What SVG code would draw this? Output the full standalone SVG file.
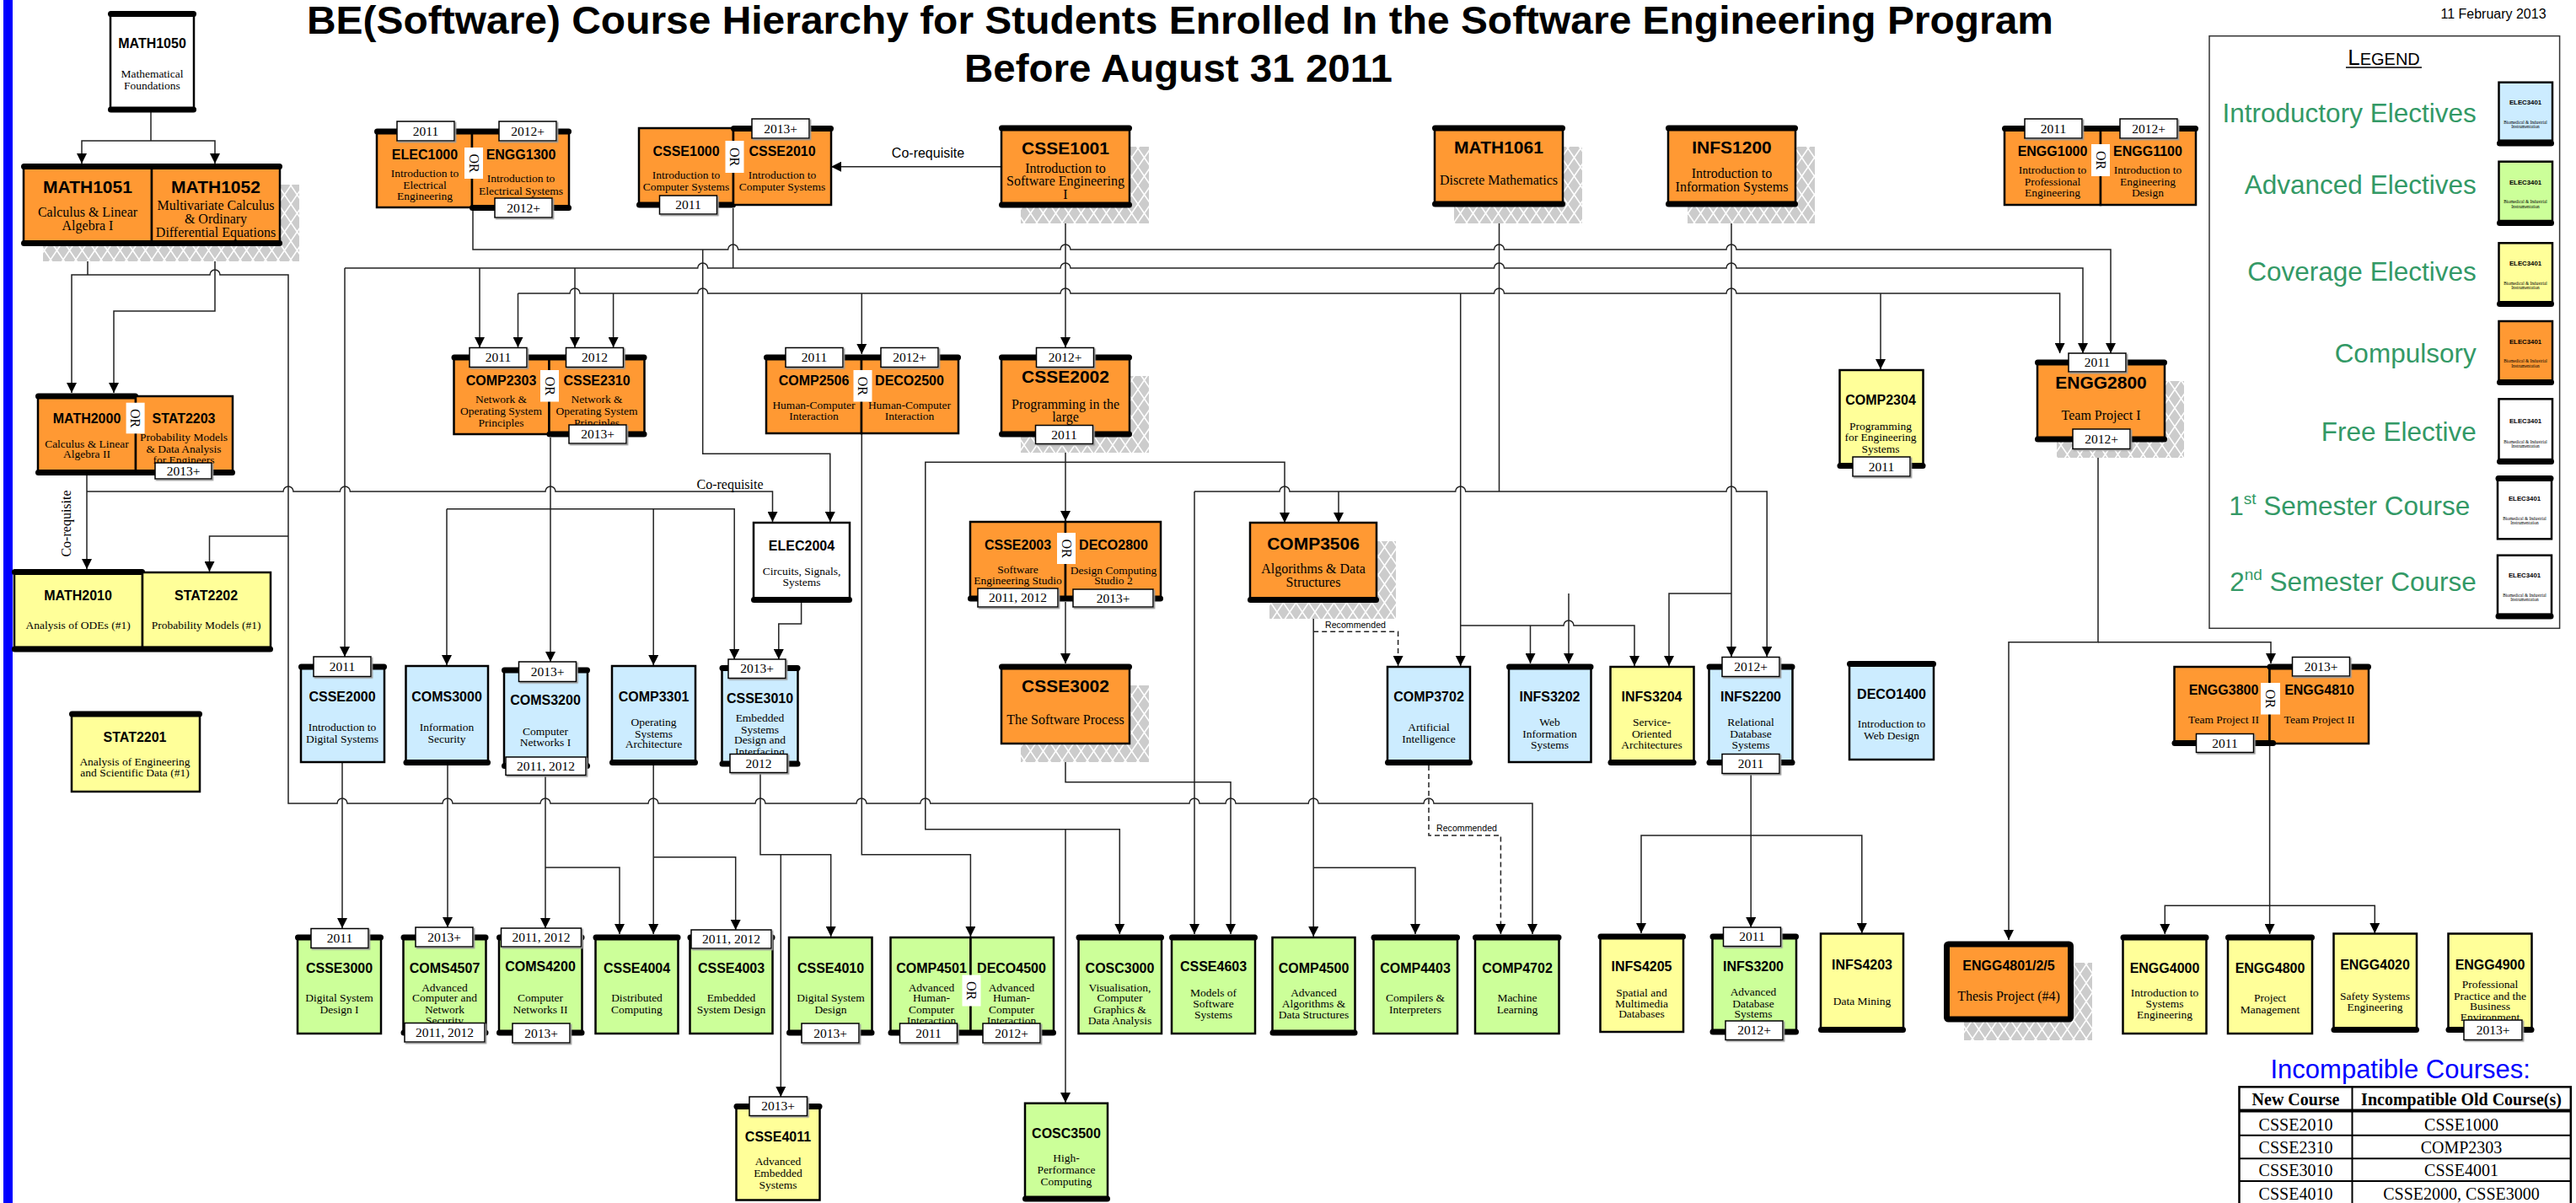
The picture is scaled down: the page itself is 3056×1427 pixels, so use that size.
<svg xmlns="http://www.w3.org/2000/svg" width="3056" height="1427" viewBox="0 0 3056 1427">
<defs>
<pattern id="hatch" width="15" height="22" patternUnits="userSpaceOnUse"><rect width="15" height="22" fill="#cccccc"/><path d="M0,0 L15,22 M15,0 L0,22" stroke="#ffffff" stroke-width="1.6"/></pattern>
<marker id="ar" viewBox="0 0 12 12" refX="12" refY="6" markerWidth="12" markerHeight="12" markerUnits="userSpaceOnUse" orient="auto"><path d="M0,0 L12,6 L0,12 z" fill="#000"/></marker>
<filter id="ds" x="-10%" y="-20%" width="130%" height="150%"><feDropShadow dx="1.5" dy="1.5" stdDeviation="0" flood-color="#999999"/></filter>
<style>
.b{stroke:#000;stroke-width:2.5}
.o{fill:#FF9933}.bl{fill:#CCECFF}.g{fill:#CCFF99}.y{fill:#FFFF99}.w{fill:#fff}
.bar{fill:#000}
.tag{fill:#fff;stroke:#000;stroke-width:1.5;filter:url(#ds)}
.orb{fill:#fff}
.sh{fill:url(#hatch)}
.c{fill:none;stroke:#222;stroke-width:1.5}
.a{marker-end:url(#ar)}
.dash{stroke-dasharray:6 4}
text{fill:#000;text-anchor:middle}
.t1{font:bold 21px 'Liberation Sans',Arial,sans-serif}
.t2{font:bold 16px 'Liberation Sans',Arial,sans-serif}
.d1{font:16px 'Liberation Serif','Times New Roman',serif}
.d2{font:13.5px 'Liberation Serif','Times New Roman',serif}
.yr{font:15.5px 'Liberation Serif','Times New Roman',serif}
.orl{font:16px 'Liberation Serif','Times New Roman',serif}
.rec{font:10.6px 'Liberation Sans',Arial,sans-serif}
.lg{font:31.5px 'Liberation Sans',Arial,sans-serif;fill:#339966;text-anchor:end}
.ic{font:bold 7.8px 'Liberation Sans',Arial,sans-serif}
.ict{font:5.3px 'Liberation Serif','Times New Roman',serif}
.tb{font:20px 'Liberation Serif','Times New Roman',serif}
.tbh{font:bold 20px 'Liberation Serif','Times New Roman',serif}
</style>
</defs>
<rect width="3056" height="1427" fill="#fff"/>
<rect x="4" y="0" width="11" height="1427" fill="#0000FF"/>
<text x="1400" y="40" textLength="2072" lengthAdjust="spacingAndGlyphs" style="font:bold 47px 'Liberation Sans',Arial,sans-serif">BE(Software) Course Hierarchy for Students Enrolled In the Software Engineering Program</text>
<text x="1398" y="97" textLength="508" lengthAdjust="spacingAndGlyphs" style="font:bold 47px 'Liberation Sans',Arial,sans-serif">Before August 31 2011</text>
<text x="2958" y="22" style="font:16px 'Liberation Sans',Arial,sans-serif">11 February 2013</text>

<g id="connectors">
<path class="c" d="M179,133 V167"/>
<path class="c a" d="M179,167 H97 V194"/>
<path class="c a" d="M179,167 H255 V194"/>
<path class="c" d="M104,292 V326"/>
<path class="c a" d="M104,326 H85 V466"/>
<path class="c a" d="M104,326 H249 a6,6 0 0 1 12,0 H342 V953 H400 a6,6 0 0 1 12,0 H525 a6,6 0 0 1 12,0 H641 a6,6 0 0 1 12,0 H769 a6,6 0 0 1 12,0 H896 a6,6 0 0 1 12,0 H1016 a6,6 0 0 1 12,0 H1091.8 a6,6 0 0 1 12,0 H1411 a6,6 0 0 1 12,0 H1454 a6,6 0 0 1 12,0 H1552.2 a6,6 0 0 1 12,0 H1689 a6,6 0 0 1 12,0 H1818 V1108"/>
<path class="c a" d="M342,636 H248.5 V678"/>
<path class="c a" d="M255,292 V369 H135 V466"/>
<path class="c a" d="M103,564 V675"/>
<path class="c a" d="M103,583 H336 a6,6 0 0 1 12,0 H403.4 a6,6 0 0 1 12,0 H647 a6,6 0 0 1 12,0 H916.5 V619"/>
<path class="c a" d="M561,250 V296 H863.7 a6,6 0 0 1 12,0 H1258 a6,6 0 0 1 12,0 H1772.5 a6,6 0 0 1 12,0 H2048 a6,6 0 0 1 12,0 H2504 V419"/>
<path class="c a" d="M833.7,296 V538.3 H984.8 V619"/>
<path class="c a" d="M409,318 H827.7 a6,6 0 0 1 12,0 H1258 a6,6 0 0 1 12,0 H1772.5 a6,6 0 0 1 12,0 H2048 a6,6 0 0 1 12,0 H2471 V419"/>
<path class="c a" d="M409,318 V779"/>
<path class="c" d="M869.7,247 V318"/>
<path class="c a" d="M569,318 V412"/>
<path class="c a" d="M682,318 V412"/>
<path class="c a" d="M614.5,348 H676 a6,6 0 0 1 12,0 H827.7 a6,6 0 0 1 12,0 H1258 a6,6 0 0 1 12,0 H1772.5 a6,6 0 0 1 12,0 H2048 a6,6 0 0 1 12,0 H2443.6 V419"/>
<path class="c a" d="M614.5,348 V412"/>
<path class="c a" d="M727.6,348 V412"/>
<path class="c a" d="M1022.3,348 V420"/>
<path class="c a" d="M1732.7,348 V790"/>
<path class="c a" d="M2231,348 V438"/>
<path class="c a" d="M1264,246 V412"/>
<path class="c" d="M1778.5,246 V583"/>
<path class="c a" d="M1417,583 H1518 a6,6 0 0 1 12,0 H1726.7 a6,6 0 0 1 12,0 H2048 a6,6 0 0 1 12,0 H2096.2 V779"/>
<path class="c a" d="M1417,583 V1108"/>
<path class="c a" d="M1588,583 V620"/>
<path class="c a" d="M2054,246 V779"/>
<path class="c a" d="M2054,704 H1980 V790"/>
<path class="c a" d="M1861,704 V787"/>
<path class="c a" d="M1732.7,742 H1855 a6,6 0 0 1 12,0 H1939 V790"/>
<path class="c a" d="M1815.5,742 V787"/>
<path class="c a" d="M1264,527 V618"/>
<path class="c a" d="M1264,548.3 H1524 V620"/>
<path class="c a" d="M1264,548.3 H1097.8 V983.7 H1328.3 V1108"/>
<path class="c a" d="M1264,983.7 V1308"/>
<path class="c a" d="M1264,714 V787"/>
<path class="c a" d="M1264,882 V927.7 H1460 V1108"/>
<path class="c a" d="M1022.3,514 V1013.7 H1151.4 V1111"/>
<path class="c a" d="M950.6,715 V740 H923.8 V782"/>
<path class="c a" d="M530,603.7 H871.2 V782"/>
<path class="c a" d="M530,603.7 V789"/>
<path class="c a" d="M775.2,603.7 V789"/>
<path class="c a" d="M653,519 V785"/>
<path class="c a" d="M406,904 V1101"/>
<path class="c a" d="M531,908 V1100"/>
<path class="c a" d="M647,920 V1101"/>
<path class="c a" d="M647,1029 H735 V1108"/>
<path class="c a" d="M775.2,908 V1108"/>
<path class="c a" d="M775.2,1016.7 H872.7 V1103"/>
<path class="c a" d="M902,917 V1013.7 H985.7 V1111"/>
<path class="c a" d="M926.3,1013.7 V1301"/>
<path class="c a" d="M1558.2,715 V1111"/>
<path class="c a" d="M1558.2,1029.3 H1679 V1108"/>
<path class="c a dash" d="M1558.2,749.3 H1658.6 V790"/>
<path class="c a dash" d="M1695,908 V991 H1780.4 V1108"/>
<path class="c a" d="M2077.2,918 V1100"/>
<path class="c a" d="M2077.2,991 H1947 V1107"/>
<path class="c a" d="M2077.2,991 H2208.8 V1107"/>
<path class="c a" d="M2489,533 V761.7 H2383 V1115"/>
<path class="c a" d="M2489,761.7 H2694 V787"/>
<path class="c a" d="M2692.6,885 V1108"/>
<path class="c a" d="M2692.6,1074.3 H2568.3 V1108"/>
<path class="c a" d="M2692.6,1074.3 H2817.3 V1107"/>
<text class="d1" x="1101" y="187" style="font-family:'Liberation Sans',Arial,sans-serif">Co-requisite</text>
<path class="c a" d="M1188,197.7 H986"/>
<text class="d1" x="866" y="580">Co-requisite</text>
<text class="d1" transform="translate(84,621) rotate(-90)">Co-requisite</text>
<text class="rec" x="1608" y="745">Recommended</text>
<text class="rec" x="1740" y="986">Recommended</text>
</g>

<g id="MATH1050">
<rect class="b w" x="131" y="16" width="99" height="114"/>
<text class="t2" x="180.5" y="57">MATH1050</text>
<text class="d2"><tspan x="180.5" y="92">Mathematical</tspan><tspan x="180.5" y="106">Foundations</tspan></text>
<rect class="bar" x="128" y="13" width="105" height="7" rx="3.5"/>
<rect class="bar" x="128" y="126.5" width="105" height="7" rx="3.5"/>
</g>

<g id="MATH1051_MATH1052">
<rect class="sh" x="51" y="219" width="304" height="91"/>
<g id="MATH1051">
<rect class="b o" x="28" y="197" width="152" height="91"/>
<text class="t1" x="104" y="229">MATH1051</text>
<text class="d1"><tspan x="104" y="257">Calculus &amp; Linear</tspan><tspan x="104" y="273">Algebra I</tspan></text>
</g>
<g id="MATH1052">
<rect class="b o" x="180" y="197" width="152" height="91"/>
<text class="t1" x="256" y="229">MATH1052</text>
<text class="d1"><tspan x="256" y="249">Multivariate Calculus</tspan><tspan x="256" y="265">&amp; Ordinary</tspan><tspan x="256" y="281">Differential Equations</tspan></text>
</g>
<rect class="bar" x="25" y="194" width="310" height="7" rx="3.5"/>
<rect class="bar" x="25" y="285" width="310" height="7" rx="3.5"/>
</g>

<g id="ELEC1000">
<rect class="b o" x="447" y="156" width="113" height="90"/>
<text class="t2" x="504" y="189">ELEC1000</text>
<text class="d2"><tspan x="504" y="210">Introduction to</tspan><tspan x="504" y="223.5">Electrical</tspan><tspan x="504" y="236.5">Engineering</tspan></text>
</g>
<g id="ENGG1300">
<rect class="b o" x="560" y="156" width="115" height="90"/>
<text class="t2" x="618" y="189">ENGG1300</text>
<text class="d2"><tspan x="618" y="216">Introduction to</tspan><tspan x="618" y="230.5">Electrical Systems</tspan></text>
<rect class="bar" x="444" y="152.5" width="234" height="7" rx="3.5"/>
<rect class="bar" x="557" y="243" width="121" height="7" rx="3.5"/>
<rect class="tag" x="471" y="144" width="68" height="23"/><text class="yr" x="505" y="160.5">2011</text>
<rect class="tag" x="592" y="144" width="68" height="23"/><text class="yr" x="626" y="160.5">2012+</text>
<rect class="tag" x="587" y="235" width="68" height="23"/><text class="yr" x="621" y="251.5">2012+</text>
<rect class="orb" x="551" y="175" width="22" height="37"/><text class="orl" transform="translate(562,193.5) rotate(90)" y="5.5">OR</text>
</g>

<g id="CSSE1000">
<rect class="b o" x="758" y="152" width="112" height="91"/>
<text class="t2" x="814" y="184.5">CSSE1000</text>
<text class="d2"><tspan x="814" y="212">Introduction to</tspan><tspan x="814" y="226">Computer Systems</tspan></text>
<rect class="bar" x="755" y="239.5" width="118" height="7" rx="3.5"/>
<rect class="tag" x="782.5" y="232" width="68" height="22"/><text class="yr" x="816.5" y="248">2011</text>
</g>
<g id="CSSE2010">
<rect class="b o" x="870" y="152" width="116" height="91"/>
<text class="t2" x="928" y="184.5">CSSE2010</text>
<text class="d2"><tspan x="928" y="212">Introduction to</tspan><tspan x="928" y="226">Computer Systems</tspan></text>
<rect class="bar" x="867" y="149" width="122" height="7" rx="3.5"/>
<rect class="tag" x="892" y="141" width="68" height="23"/><text class="yr" x="926" y="157.5">2013+</text>
<rect class="orb" x="860.5" y="167" width="22" height="38"/><text class="orl" transform="translate(871.5,186) rotate(90)" y="5.5">OR</text>
</g>

<g id="CSSE1001">
<rect class="sh" x="1211" y="174" width="152" height="91"/>
<rect class="b o" x="1188" y="152" width="152" height="91"/>
<text class="t1" x="1264" y="182.5">CSSE1001</text>
<text class="d1"><tspan x="1264" y="204.5">Introduction to</tspan><tspan x="1264" y="220">Software Engineering</tspan><tspan x="1264" y="236">I</tspan></text>
<rect class="bar" x="1185" y="148.5" width="158" height="7" rx="3.5"/>
<rect class="bar" x="1185" y="239.5" width="158" height="7" rx="3.5"/>
</g>

<g id="MATH1061">
<rect class="sh" x="1725" y="174" width="152" height="91"/>
<rect class="b o" x="1702" y="152" width="152" height="90"/>
<text class="t1" x="1778" y="181.5">MATH1061</text>
<text class="d1" x="1778" y="219">Discrete Mathematics</text>
<rect class="bar" x="1699" y="148.5" width="158" height="7" rx="3.5"/>
<rect class="bar" x="1699" y="238.5" width="158" height="7" rx="3.5"/>
</g>

<g id="INFS1200">
<rect class="sh" x="2002" y="174" width="151" height="91"/>
<rect class="b o" x="1979" y="152" width="151" height="90"/>
<text class="t1" x="2054.5" y="181.5">INFS1200</text>
<text class="d1"><tspan x="2054.5" y="211">Introduction to</tspan><tspan x="2054.5" y="227">Information Systems</tspan></text>
<rect class="bar" x="1976" y="148.5" width="157" height="7" rx="3.5"/>
<rect class="bar" x="1976" y="238.5" width="157" height="7" rx="3.5"/>
</g>

<g id="ENGG1000">
<rect class="b o" x="2378" y="152" width="114" height="91"/>
<text class="t2" x="2435" y="184.5">ENGG1000</text>
<text class="d2"><tspan x="2435" y="206">Introduction to</tspan><tspan x="2435" y="219.5">Professional</tspan><tspan x="2435" y="232.5">Engineering</tspan></text>
</g>
<g id="ENGG1100">
<rect class="b o" x="2492" y="152" width="113" height="91"/>
<text class="t2" x="2548" y="184.5">ENGG1100</text>
<text class="d2"><tspan x="2548" y="206">Introduction to</tspan><tspan x="2548" y="219.5">Engineering</tspan><tspan x="2548" y="232.5">Design</tspan></text>
<rect class="bar" x="2375" y="149" width="233" height="7" rx="3.5"/>
<rect class="tag" x="2402" y="141" width="68" height="23"/><text class="yr" x="2436" y="157.5">2011</text>
<rect class="tag" x="2515" y="141" width="68" height="23"/><text class="yr" x="2549" y="157.5">2012+</text>
<rect class="orb" x="2481" y="171" width="22" height="38"/><text class="orl" transform="translate(2492,190) rotate(90)" y="5.5">OR</text>
</g>

<g id="COMP2303">
<rect class="b o" x="538.5" y="424" width="113" height="91"/>
<text class="t2" x="594.5" y="456.5">COMP2303</text>
<text class="d2"><tspan x="594.5" y="477.5">Network &amp;</tspan><tspan x="594.5" y="491.5">Operating System</tspan><tspan x="594.5" y="505.5">Principles</tspan></text>
</g>
<g id="CSSE2310">
<rect class="b o" x="651.5" y="424" width="113" height="91"/>
<text class="t2" x="708" y="456.5">CSSE2310</text>
<text class="d2"><tspan x="708" y="477.5">Network &amp;</tspan><tspan x="708" y="491.5">Operating System</tspan><tspan x="708" y="505.5">Principles</tspan></text>
<rect class="bar" x="535.5" y="420.5" width="232" height="7" rx="3.5"/>
<rect class="bar" x="648.5" y="511.5" width="119" height="7" rx="3.5"/>
<rect class="tag" x="557" y="412.5" width="68" height="23"/><text class="yr" x="591" y="429">2011</text>
<rect class="tag" x="671.5" y="412.5" width="68" height="23"/><text class="yr" x="705.5" y="429">2012</text>
<rect class="tag" x="675" y="504" width="68" height="22"/><text class="yr" x="709" y="520">2013+</text>
<rect class="orb" x="641" y="439" width="22" height="37.5"/><text class="orl" transform="translate(652,457.75) rotate(90)" y="5.5">OR</text>
</g>

<g id="COMP2506">
<rect class="b o" x="909" y="424" width="113" height="90"/>
<text class="t2" x="965.5" y="456.5">COMP2506</text>
<text class="d2"><tspan x="965.5" y="484.5">Human-Computer</tspan><tspan x="965.5" y="498">Interaction</tspan></text>
</g>
<g id="DECO2500">
<rect class="b o" x="1022" y="424" width="115" height="90"/>
<text class="t2" x="1079" y="456.5">DECO2500</text>
<text class="d2"><tspan x="1079" y="484.5">Human-Computer</tspan><tspan x="1079" y="498">Interaction</tspan></text>
<rect class="bar" x="906" y="420.5" width="234" height="7" rx="3.5"/>
<rect class="tag" x="932" y="412.5" width="68" height="23"/><text class="yr" x="966" y="429">2011</text>
<rect class="tag" x="1045" y="412.5" width="68" height="23"/><text class="yr" x="1079" y="429">2012+</text>
<rect class="orb" x="1012.5" y="439" width="22" height="37.5"/><text class="orl" transform="translate(1023.5,457.75) rotate(90)" y="5.5">OR</text>
</g>

<g id="CSSE2002">
<rect class="sh" x="1211" y="446" width="152" height="91"/>
<rect class="b o" x="1188" y="424" width="152" height="91"/>
<text class="t1" x="1264" y="454">CSSE2002</text>
<text class="d1"><tspan x="1264" y="485">Programming in the</tspan><tspan x="1264" y="500">large</tspan></text>
<rect class="bar" x="1185" y="420.5" width="158" height="7" rx="3.5"/>
<rect class="bar" x="1185" y="511.5" width="158" height="7" rx="3.5"/>
<rect class="tag" x="1229.5" y="412.5" width="68" height="23"/><text class="yr" x="1263.5" y="429">2012+</text>
<rect class="tag" x="1228.5" y="504.5" width="68" height="22"/><text class="yr" x="1262.5" y="520.5">2011</text>
</g>

<g id="COMP2304">
<rect class="b y" x="2182.5" y="439" width="99" height="113"/>
<text class="t2" x="2231" y="480">COMP2304</text>
<text class="d2"><tspan x="2231" y="510">Programming</tspan><tspan x="2231" y="523">for Engineering</tspan><tspan x="2231" y="536.5">Systems</tspan></text>
<rect class="bar" x="2179.5" y="549" width="105" height="7" rx="3.5"/>
<rect class="tag" x="2198" y="542" width="68" height="23"/><text class="yr" x="2232" y="558.5">2011</text>
</g>

<g id="ENGG2800">
<rect class="sh" x="2440" y="452" width="151" height="91"/>
<rect class="b o" x="2417" y="430" width="151" height="91"/>
<text class="t1" x="2492.5" y="461">ENGG2800</text>
<text class="d1" x="2492.5" y="498">Team Project I</text>
<rect class="bar" x="2414" y="426.5" width="157" height="7" rx="3.5"/>
<rect class="bar" x="2414" y="517.5" width="157" height="7" rx="3.5"/>
<rect class="tag" x="2454" y="419" width="68" height="22"/><text class="yr" x="2488" y="435">2011</text>
<rect class="tag" x="2459" y="509" width="68" height="23.5"/><text class="yr" x="2493" y="525.75">2012+</text>
</g>

<g id="MATH2000">
<rect class="b o" x="45" y="470" width="116" height="90"/>
<text class="t2" x="103" y="501.5">MATH2000</text>
<text class="d2"><tspan x="103" y="530.5">Calculus &amp; Linear</tspan><tspan x="103" y="543">Algebra II</tspan></text>
<rect class="bar" x="42" y="466.5" width="122" height="7" rx="3.5"/>
</g>
<g id="STAT2203">
<rect class="b o" x="161" y="470" width="115" height="90"/>
<text class="t2" x="218" y="501.5">STAT2203</text>
<text class="d2"><tspan x="218" y="523">Probability Models</tspan><tspan x="218" y="537">&amp; Data Analysis</tspan><tspan x="218" y="549.5">for Engineers</tspan></text>
<rect class="bar" x="42" y="557" width="237" height="7" rx="3.5"/>
<rect class="tag" x="184" y="549" width="67" height="19"/><text class="yr" x="217.5" y="563.5">2013+</text>
<rect class="orb" x="149.6" y="477.7" width="22" height="36.6"/><text class="orl" transform="translate(160.6,496) rotate(90)" y="5.5">OR</text>
</g>

<g id="MATH2010">
<rect class="b y" x="17" y="679" width="152" height="89"/>
<text class="t2" x="92.6" y="712">MATH2010</text>
<text class="d2" x="92.6" y="746">Analysis of ODEs (#1)</text>
<rect class="bar" x="14" y="675" width="158" height="7" rx="3.5"/>
</g>
<g id="STAT2202">
<rect class="b y" x="169" y="679" width="152" height="89"/>
<text class="t2" x="244.6" y="712">STAT2202</text>
<text class="d2" x="244.6" y="746">Probability Models (#1)</text>
<rect class="bar" x="14" y="766.5" width="310" height="7" rx="3.5"/>
</g>

<g id="STAT2201">
<rect class="b y" x="85" y="847" width="152" height="92"/>
<text class="t2" x="160" y="879.5">STAT2201</text>
<text class="d2"><tspan x="160" y="908">Analysis of Engineering</tspan><tspan x="160" y="921">and Scientific Data (#1)</tspan></text>
<rect class="bar" x="82" y="843.5" width="158" height="7" rx="3.5"/>
</g>

<g id="ELEC2004">
<rect class="b w" x="894" y="620" width="114" height="92"/>
<text class="t2" x="951" y="652.5">ELEC2004</text>
<text class="d2"><tspan x="951" y="681.5">Circuits, Signals,</tspan><tspan x="951" y="694.5">Systems</tspan></text>
<rect class="bar" x="891" y="708" width="120" height="7" rx="3.5"/>
</g>

<g id="CSSE2003">
<rect class="b o" x="1151" y="619" width="113" height="91"/>
<text class="t2" x="1207.5" y="652">CSSE2003</text>
<text class="d2"><tspan x="1207.5" y="679.5">Software</tspan><tspan x="1207.5" y="693">Engineering Studio</tspan></text>
</g>
<g id="DECO2800">
<rect class="b o" x="1264" y="619" width="113" height="91"/>
<text class="t2" x="1321" y="652">DECO2800</text>
<text class="d2"><tspan x="1321" y="680.5">Design Computing</tspan><tspan x="1321" y="693">Studio 2</tspan></text>
<rect class="bar" x="1148" y="706.5" width="232" height="7" rx="3.5"/>
<rect class="tag" x="1160" y="698" width="95" height="22"/><text class="yr" x="1207.5" y="714">2011, 2012</text>
<rect class="tag" x="1273" y="699" width="95" height="21"/><text class="yr" x="1320.5" y="714.5">2013+</text>
<rect class="orb" x="1254" y="632" width="22" height="37"/><text class="orl" transform="translate(1265,650.5) rotate(90)" y="5.5">OR</text>
</g>

<g id="COMP3506">
<rect class="sh" x="1506" y="642" width="150" height="92"/>
<rect class="b o" x="1483" y="620" width="150" height="92"/>
<text class="t1" x="1558" y="652">COMP3506</text>
<text class="d1"><tspan x="1558" y="680">Algorithms &amp; Data</tspan><tspan x="1558" y="696">Structures</tspan></text>
<rect class="bar" x="1480" y="708" width="156" height="7" rx="3.5"/>
</g>

<g id="CSSE3002">
<rect class="sh" x="1211" y="813" width="152" height="91"/>
<rect class="b o" x="1188" y="791" width="152" height="91"/>
<text class="t1" x="1264" y="821">CSSE3002</text>
<text class="d1" x="1264" y="859">The Software Process</text>
<rect class="bar" x="1185" y="787.5" width="158" height="7" rx="3.5"/>
</g>

<g id="CSSE2000">
<rect class="b bl" x="357" y="791" width="99" height="113"/>
<text class="t2" x="406" y="832">CSSE2000</text>
<text class="d2"><tspan x="406" y="867">Introduction to</tspan><tspan x="406" y="880.5">Digital Systems</tspan></text>
<rect class="bar" x="354" y="787.5" width="105" height="7" rx="3.5"/>
<rect class="tag" x="372" y="779" width="68" height="23.5"/><text class="yr" x="406" y="795.75">2011</text>
</g>

<g id="COMS3000">
<rect class="b bl" x="481.5" y="790" width="97.5" height="114"/>
<text class="t2" x="530" y="832">COMS3000</text>
<text class="d2"><tspan x="530" y="867">Information</tspan><tspan x="530" y="880.5">Security</tspan></text>
<rect class="bar" x="478.5" y="901" width="103.5" height="7" rx="3.5"/>
</g>

<g id="COMS3200">
<rect class="b bl" x="598" y="795" width="99" height="114"/>
<text class="t2" x="647" y="836">COMS3200</text>
<text class="d2"><tspan x="647" y="871.5">Computer</tspan><tspan x="647" y="885">Networks I</tspan></text>
<rect class="bar" x="595" y="791.5" width="105" height="7" rx="3.5"/>
<rect class="bar" x="595" y="905" width="105" height="7" rx="3.5"/>
<rect class="tag" x="615.5" y="785" width="68" height="23.5"/><text class="yr" x="649.5" y="801.75">2013+</text>
<rect class="tag" x="600" y="898" width="95" height="21.5"/><text class="yr" x="647.5" y="913.75">2011, 2012</text>
</g>

<g id="COMP3301">
<rect class="b bl" x="726" y="790" width="99" height="114"/>
<text class="t2" x="775.5" y="832">COMP3301</text>
<text class="d2"><tspan x="775.5" y="860.5">Operating</tspan><tspan x="775.5" y="874.5">Systems</tspan><tspan x="775.5" y="887">Architecture</tspan></text>
<rect class="bar" x="723" y="901" width="105" height="7" rx="3.5"/>
</g>

<g id="CSSE3010">
<rect class="b bl" x="856.5" y="793" width="90" height="113"/>
<text class="t2" x="901.5" y="834">CSSE3010</text>
<text class="d2"><tspan x="901.5" y="856">Embedded</tspan><tspan x="901.5" y="869.5">Systems</tspan><tspan x="901.5" y="882">Design and</tspan><tspan x="901.5" y="895.5">Interfacing</tspan></text>
<rect class="bar" x="853.5" y="789" width="96" height="7" rx="3.5"/>
<rect class="bar" x="853.5" y="902.5" width="96" height="7" rx="3.5"/>
<rect class="tag" x="864" y="782" width="68" height="22.5"/><text class="yr" x="898" y="798.25">2013+</text>
<rect class="tag" x="866" y="894.5" width="68" height="22"/><text class="yr" x="900" y="910.5">2012</text>
</g>

<g id="COMP3702">
<rect class="b bl" x="1646" y="791" width="98" height="113"/>
<text class="t2" x="1695" y="832">COMP3702</text>
<text class="d2"><tspan x="1695" y="867">Artificial</tspan><tspan x="1695" y="880.5">Intelligence</tspan></text>
<rect class="bar" x="1643" y="901" width="104" height="7" rx="3.5"/>
</g>

<g id="INFS3202">
<rect class="b bl" x="1790" y="791" width="97.5" height="113"/>
<text class="t2" x="1838.5" y="832">INFS3202</text>
<text class="d2"><tspan x="1838.5" y="860.5">Web</tspan><tspan x="1838.5" y="874.5">Information</tspan><tspan x="1838.5" y="888">Systems</tspan></text>
<rect class="bar" x="1787" y="787.5" width="103.5" height="7" rx="3.5"/>
</g>

<g id="INFS3204">
<rect class="b y" x="1910.5" y="791" width="99" height="113"/>
<text class="t2" x="1959.5" y="832">INFS3204</text>
<text class="d2"><tspan x="1959.5" y="860.5">Service-</tspan><tspan x="1959.5" y="874.5">Oriented</tspan><tspan x="1959.5" y="888">Architectures</tspan></text>
<rect class="bar" x="1907.5" y="901" width="105" height="7" rx="3.5"/>
</g>

<g id="INFS2200">
<rect class="b bl" x="2027.5" y="791" width="99" height="113"/>
<text class="t2" x="2077" y="832">INFS2200</text>
<text class="d2"><tspan x="2077" y="860.5">Relational</tspan><tspan x="2077" y="874.5">Database</tspan><tspan x="2077" y="888">Systems</tspan></text>
<rect class="bar" x="2024.5" y="787.5" width="105" height="7" rx="3.5"/>
<rect class="bar" x="2024.5" y="901" width="105" height="7" rx="3.5"/>
<rect class="tag" x="2043" y="779.5" width="68" height="23"/><text class="yr" x="2077" y="796">2012+</text>
<rect class="tag" x="2043" y="894.5" width="68" height="23"/><text class="yr" x="2077" y="911">2011</text>
</g>

<g id="DECO1400">
<rect class="b bl" x="2194" y="788" width="100" height="113"/>
<text class="t2" x="2244" y="828.5">DECO1400</text>
<text class="d2"><tspan x="2244" y="863">Introduction to</tspan><tspan x="2244" y="877">Web Design</tspan></text>
<rect class="bar" x="2191" y="784" width="106" height="7" rx="3.5"/>
</g>

<g id="ENGG3800">
<rect class="b o" x="2579.5" y="791" width="113" height="91"/>
<text class="t2" x="2638" y="823.5">ENGG3800</text>
<text class="d2" x="2638" y="858">Team Project II</text>
</g>
<g id="ENGG4810">
<rect class="b o" x="2692.5" y="791" width="117.5" height="91"/>
<text class="t2" x="2751.5" y="823.5">ENGG4810</text>
<text class="d2" x="2751.5" y="858">Team Project II</text>
<rect class="bar" x="2689.5" y="787.5" width="123.5" height="7" rx="3.5"/>
<rect class="bar" x="2576.5" y="878" width="123.5" height="7" rx="3.5"/>
<rect class="tag" x="2719.5" y="779.5" width="68" height="22.5"/><text class="yr" x="2753.5" y="795.75">2013+</text>
<rect class="tag" x="2605.5" y="870.5" width="68" height="22"/><text class="yr" x="2639.5" y="886.5">2011</text>
<rect class="orb" x="2682" y="810" width="23" height="37.5"/><text class="orl" transform="translate(2693.5,828.75) rotate(90)" y="5.5">OR</text>
</g>

<g id="CSSE3000">
<rect class="b g" x="353" y="1112" width="99" height="114"/>
<text class="t2" x="402.5" y="1153.5">CSSE3000</text>
<text class="d2"><tspan x="402.5" y="1188">Digital System</tspan><tspan x="402.5" y="1202">Design I</tspan></text>
<rect class="bar" x="350" y="1108.5" width="105" height="7" rx="3.5"/>
<rect class="tag" x="369" y="1101.5" width="68" height="23"/><text class="yr" x="403" y="1118">2011</text>
</g>

<g id="COMS4507">
<rect class="b g" x="478.5" y="1112" width="98" height="113"/>
<text class="t2" x="527.5" y="1153.5">COMS4507</text>
<text class="d2"><tspan x="527.5" y="1175.5">Advanced</tspan><tspan x="527.5" y="1188">Computer and</tspan><tspan x="527.5" y="1202">Network</tspan><tspan x="527.5" y="1214.5">Security</tspan></text>
<rect class="bar" x="475.5" y="1108.5" width="104" height="7" rx="3.5"/>
<rect class="bar" x="475.5" y="1221.5" width="104" height="7" rx="3.5"/>
<rect class="tag" x="493" y="1100" width="68" height="23"/><text class="yr" x="527" y="1116.5">2013+</text>
<rect class="tag" x="480" y="1213.5" width="95" height="22.5"/><text class="yr" x="527.5" y="1229.75">2011, 2012</text>
</g>

<g id="COMS4200">
<rect class="b g" x="592" y="1112" width="98.5" height="113"/>
<text class="t2" x="641" y="1152">COMS4200</text>
<text class="d2"><tspan x="641" y="1188">Computer</tspan><tspan x="641" y="1201.5">Networks II</tspan></text>
<rect class="bar" x="589" y="1108.5" width="104.5" height="7" rx="3.5"/>
<rect class="bar" x="589" y="1221.5" width="104.5" height="7" rx="3.5"/>
<rect class="tag" x="594.5" y="1101" width="95" height="22"/><text class="yr" x="642" y="1117">2011, 2012</text>
<rect class="tag" x="608" y="1214" width="68" height="23"/><text class="yr" x="642" y="1230.5">2013+</text>
</g>

<g id="CSSE4004">
<rect class="b g" x="706.5" y="1112" width="98" height="114"/>
<text class="t2" x="755.5" y="1153.5">CSSE4004</text>
<text class="d2"><tspan x="755.5" y="1188">Distributed</tspan><tspan x="755.5" y="1202">Computing</tspan></text>
<rect class="bar" x="703.5" y="1108.5" width="104" height="7" rx="3.5"/>
</g>

<g id="CSSE4003">
<rect class="b g" x="818.5" y="1112" width="98" height="114"/>
<text class="t2" x="867.5" y="1153.5">CSSE4003</text>
<text class="d2"><tspan x="867.5" y="1188">Embedded</tspan><tspan x="867.5" y="1202">System Design</tspan></text>
<rect class="bar" x="815.5" y="1108.5" width="104" height="7" rx="3.5"/>
<rect class="tag" x="820" y="1103" width="95" height="22"/><text class="yr" x="867.5" y="1119">2011, 2012</text>
</g>

<g id="CSSE4010">
<rect class="b g" x="936" y="1112" width="98.5" height="113"/>
<text class="t2" x="985.5" y="1153.5">CSSE4010</text>
<text class="d2"><tspan x="985.5" y="1188">Digital System</tspan><tspan x="985.5" y="1202">Design</tspan></text>
<rect class="bar" x="933" y="1221.5" width="104.5" height="7" rx="3.5"/>
<rect class="tag" x="951" y="1214" width="68" height="23"/><text class="yr" x="985" y="1230.5">2013+</text>
</g>

<g id="COMP4501">
<rect class="b g" x="1056.5" y="1112" width="95" height="113"/>
<text class="t2" x="1105" y="1153.5">COMP4501</text>
<text class="d2"><tspan x="1105" y="1175.5">Advanced</tspan><tspan x="1105" y="1188">Human-</tspan><tspan x="1105" y="1202">Computer</tspan><tspan x="1105" y="1214.5">Interaction</tspan></text>
</g>
<g id="DECO4500">
<rect class="b g" x="1151.5" y="1112" width="98.5" height="113"/>
<text class="t2" x="1200" y="1153.5">DECO4500</text>
<text class="d2"><tspan x="1200" y="1175.5">Advanced</tspan><tspan x="1200" y="1188">Human-</tspan><tspan x="1200" y="1202">Computer</tspan><tspan x="1200" y="1214.5">Interaction</tspan></text>
<rect class="bar" x="1053.5" y="1221.5" width="199.5" height="7" rx="3.5"/>
<rect class="tag" x="1067.5" y="1214" width="68" height="23"/><text class="yr" x="1101.5" y="1230.5">2011</text>
<rect class="tag" x="1166" y="1214" width="68" height="23"/><text class="yr" x="1200" y="1230.5">2012+</text>
<rect class="orb" x="1141.5" y="1156.5" width="22" height="37"/><text class="orl" transform="translate(1152.5,1175) rotate(90)" y="5.5">OR</text>
</g>

<g id="COSC3000">
<rect class="b g" x="1279.5" y="1112" width="98.5" height="114"/>
<text class="t2" x="1328.5" y="1153.5">COSC3000</text>
<text class="d2"><tspan x="1328.5" y="1175.5">Visualisation,</tspan><tspan x="1328.5" y="1188">Computer</tspan><tspan x="1328.5" y="1202">Graphics &amp;</tspan><tspan x="1328.5" y="1214.5">Data Analysis</tspan></text>
<rect class="bar" x="1276.5" y="1108.5" width="104.5" height="7" rx="3.5"/>
</g>

<g id="CSSE4603">
<rect class="b g" x="1390" y="1112" width="99" height="114"/>
<text class="t2" x="1439.5" y="1152">CSSE4603</text>
<text class="d2"><tspan x="1439.5" y="1181.5">Models of</tspan><tspan x="1439.5" y="1194.5">Software</tspan><tspan x="1439.5" y="1208">Systems</tspan></text>
<rect class="bar" x="1387" y="1108.5" width="105" height="7" rx="3.5"/>
</g>

<g id="COMP4500">
<rect class="b g" x="1509.5" y="1112" width="98" height="113"/>
<text class="t2" x="1558.5" y="1153.5">COMP4500</text>
<text class="d2"><tspan x="1558.5" y="1182">Advanced</tspan><tspan x="1558.5" y="1195">Algorithms &amp;</tspan><tspan x="1558.5" y="1208">Data Structures</tspan></text>
<rect class="bar" x="1506.5" y="1221.5" width="104" height="7" rx="3.5"/>
</g>

<g id="COMP4403">
<rect class="b g" x="1629.5" y="1112" width="99.5" height="114"/>
<text class="t2" x="1679" y="1153.5">COMP4403</text>
<text class="d2"><tspan x="1679" y="1188">Compilers &amp;</tspan><tspan x="1679" y="1202">Interpreters</tspan></text>
<rect class="bar" x="1626.5" y="1108.5" width="105.5" height="7" rx="3.5"/>
</g>

<g id="COMP4702">
<rect class="b g" x="1750" y="1112" width="99.5" height="114"/>
<text class="t2" x="1800" y="1153.5">COMP4702</text>
<text class="d2"><tspan x="1800" y="1188">Machine</tspan><tspan x="1800" y="1201.5">Learning</tspan></text>
<rect class="bar" x="1747" y="1108.5" width="105.5" height="7" rx="3.5"/>
</g>

<g id="INFS4205">
<rect class="b y" x="1898.5" y="1111" width="98.5" height="113"/>
<text class="t2" x="1947.5" y="1152">INFS4205</text>
<text class="d2"><tspan x="1947.5" y="1181.5">Spatial and</tspan><tspan x="1947.5" y="1194.5">Multimedia</tspan><tspan x="1947.5" y="1207">Databases</tspan></text>
<rect class="bar" x="1895.5" y="1107.5" width="104.5" height="7" rx="3.5"/>
</g>

<g id="INFS3200">
<rect class="b g" x="2031.5" y="1111" width="99.5" height="113"/>
<text class="t2" x="2080" y="1151.5">INFS3200</text>
<text class="d2"><tspan x="2080" y="1180.5">Advanced</tspan><tspan x="2080" y="1194.5">Database</tspan><tspan x="2080" y="1207">Systems</tspan></text>
<rect class="bar" x="2028.5" y="1107.5" width="105.5" height="7" rx="3.5"/>
<rect class="bar" x="2028.5" y="1220.5" width="105.5" height="7" rx="3.5"/>
<rect class="tag" x="2044.5" y="1100" width="68" height="22.5"/><text class="yr" x="2078.5" y="1116.25">2011</text>
<rect class="tag" x="2047" y="1211" width="68" height="22.5"/><text class="yr" x="2081" y="1227.25">2012+</text>
</g>

<g id="INFS4203">
<rect class="b y" x="2160" y="1107.5" width="98" height="114.5"/>
<text class="t2" x="2209" y="1150">INFS4203</text>
<text class="d2" x="2209" y="1191.5">Data Mining</text>
<rect class="bar" x="2157" y="1218" width="104" height="7" rx="3.5"/>
</g>

<g id="ENGG4801">
<rect class="sh" x="2330" y="1142" width="152" height="92"/>
<rect class="o" x="2309.5" y="1120" width="147" height="89" stroke="#000" stroke-width="7" rx="2"/>
<text class="t2" x="2383" y="1151">ENGG4801/2/5</text>
<text class="d1" x="2383" y="1187">Thesis Project (#4)</text>
</g>

<g id="ENGG4000">
<rect class="b y" x="2518.5" y="1112" width="99" height="114"/>
<text class="t2" x="2568" y="1153.5">ENGG4000</text>
<text class="d2"><tspan x="2568" y="1182">Introduction to</tspan><tspan x="2568" y="1195">Systems</tspan><tspan x="2568" y="1208">Engineering</tspan></text>
<rect class="bar" x="2515.5" y="1108.5" width="105" height="7" rx="3.5"/>
</g>

<g id="ENGG4800">
<rect class="b y" x="2643" y="1112" width="100" height="114"/>
<text class="t2" x="2693" y="1153.5">ENGG4800</text>
<text class="d2"><tspan x="2693" y="1188">Project</tspan><tspan x="2693" y="1202">Management</tspan></text>
<rect class="bar" x="2640" y="1108.5" width="106" height="7" rx="3.5"/>
</g>

<g id="ENGG4020">
<rect class="b y" x="2768.5" y="1107.5" width="98.5" height="114.5"/>
<text class="t2" x="2817.5" y="1150">ENGG4020</text>
<text class="d2"><tspan x="2817.5" y="1185.5">Safety Systems</tspan><tspan x="2817.5" y="1199">Engineering</tspan></text>
<rect class="bar" x="2765.5" y="1218" width="104.5" height="7" rx="3.5"/>
</g>

<g id="ENGG4900">
<rect class="b y" x="2904.5" y="1107.5" width="99" height="114.5"/>
<text class="t2" x="2954" y="1150">ENGG4900</text>
<text class="d2"><tspan x="2954" y="1171.5">Professional</tspan><tspan x="2954" y="1185.5">Practice and the</tspan><tspan x="2954" y="1198">Business</tspan><tspan x="2954" y="1211">Environment</tspan></text>
<rect class="bar" x="2901.5" y="1218" width="105" height="7" rx="3.5"/>
<rect class="tag" x="2923" y="1210" width="69" height="23.5"/><text class="yr" x="2957.5" y="1226.75">2013+</text>
</g>

<g id="CSSE4011">
<rect class="b y" x="873.5" y="1312.5" width="99" height="111"/>
<text class="t2" x="923" y="1353.5">CSSE4011</text>
<text class="d2"><tspan x="923" y="1382">Advanced</tspan><tspan x="923" y="1395.5">Embedded</tspan><tspan x="923" y="1409.5">Systems</tspan></text>
<rect class="bar" x="870.5" y="1309" width="105" height="7" rx="3.5"/>
<rect class="tag" x="889" y="1301" width="68.5" height="22.5"/><text class="yr" x="923" y="1317.25">2013+</text>
</g>

<g id="COSC3500">
<rect class="b g" x="1216" y="1308.7" width="98" height="113.3"/>
<text class="t2" x="1265" y="1349.5">COSC3500</text>
<text class="d2"><tspan x="1265" y="1378">High-</tspan><tspan x="1265" y="1392">Performance</tspan><tspan x="1265" y="1405.5">Computing</tspan></text>
<rect class="bar" x="1213" y="1418.5" width="104" height="7" rx="3.5"/>
</g>

<g id="legend">
<rect x="2621" y="42.7" width="415.6" height="702.6" fill="none" stroke="#333" stroke-width="1.5"/>
<text x="2828" y="77" style="font-family:'Liberation Sans',Arial,sans-serif"><tspan font-size="26">L</tspan><tspan font-size="20">EGEND</tspan></text>
<line x1="2783" y1="80" x2="2873" y2="80" stroke="#000" stroke-width="1.5"/>
<text class="lg" x="2937.7" y="145">Introductory Electives</text>
<text class="lg" x="2937.7" y="230">Advanced Electives</text>
<text class="lg" x="2937.7" y="333">Coverage Electives</text>
<text class="lg" x="2937.7" y="430">Compulsory</text>
<text class="lg" x="2937.7" y="523">Free Elective</text>
<text class="lg" x="2930.4" y="611">1<tspan font-size="19" dy="-13">st</tspan><tspan dy="13"> Semester Course</tspan></text>
<text class="lg" x="2937.7" y="701">2<tspan font-size="19" dy="-13">nd</tspan><tspan dy="13"> Semester Course</tspan></text>
<g id="legend-intro">
<rect class="b bl" x="2964.5" y="97.7" width="63.5" height="69"/>
<rect class="bar" x="2962" y="166.5" width="68" height="7" rx="3.5"/>
<text class="ic" x="2996" y="124">ELEC3401</text>
<text class="ict"><tspan x="2996" y="147">Biomedical &amp; Industrial</tspan><tspan x="2996" y="152">Instrumentation</tspan></text>
</g>
<g id="legend-adv">
<rect class="b g" x="2964.5" y="191.7" width="63.5" height="70.3"/>
<rect class="bar" x="2962" y="261" width="68" height="7" rx="3.5"/>
<text class="ic" x="2996" y="219">ELEC3401</text>
<text class="ict"><tspan x="2996" y="241">Biomedical &amp; Industrial</tspan><tspan x="2996" y="247">Instrumentation</tspan></text>
</g>
<g id="legend-cov">
<rect class="b y" x="2964.5" y="288.3" width="63.5" height="70.7"/>
<rect class="bar" x="2962" y="357" width="68" height="7" rx="3.5"/>
<text class="ic" x="2996" y="315">ELEC3401</text>
<text class="ict"><tspan x="2996" y="338">Biomedical &amp; Industrial</tspan><tspan x="2996" y="343">Instrumentation</tspan></text>
</g>
<g id="legend-comp">
<rect class="b o" x="2964.5" y="381" width="63.5" height="71"/>
<rect class="bar" x="2962" y="450" width="68" height="7" rx="3.5"/>
<text class="ic" x="2996" y="408">ELEC3401</text>
<text class="ict"><tspan x="2996" y="430">Biomedical &amp; Industrial</tspan><tspan x="2996" y="435.5">Instrumentation</tspan></text>
</g>
<g id="legend-free">
<rect class="b w" x="2964.5" y="473.3" width="63.5" height="71.7"/>
<rect class="bar" x="2962" y="544" width="68" height="7" rx="3.5"/>
<text class="ic" x="2996" y="502">ELEC3401</text>
<text class="ict"><tspan x="2996" y="525.5">Biomedical &amp; Industrial</tspan><tspan x="2996" y="530.5">Instrumentation</tspan></text>
</g>
<g id="legend-sem1">
<rect class="b w" x="2963" y="567.7" width="64" height="71.6"/>
<rect class="bar" x="2960.5" y="564" width="69" height="7" rx="3.5"/>
<text class="ic" x="2995" y="594">ELEC3401</text>
<text class="ict"><tspan x="2995" y="617">Biomedical &amp; Industrial</tspan><tspan x="2995" y="622">Instrumentation</tspan></text>
</g>
<g id="legend-sem2">
<rect class="b w" x="2963" y="658.7" width="64" height="70.3"/>
<rect class="bar" x="2960.5" y="727.5" width="69" height="7" rx="3.5"/>
<text class="ic" x="2995" y="685">ELEC3401</text>
<text class="ict"><tspan x="2995" y="708">Biomedical &amp; Industrial</tspan><tspan x="2995" y="713">Instrumentation</tspan></text>
</g>
</g>

<g id="incompatible">
<text x="2847.7" y="1279" style="font:31px 'Liberation Sans',Arial,sans-serif;fill:#0000FF">Incompatible Courses:</text>
<rect x="2656.5" y="1289.3" width="393.3" height="145" fill="#fff" stroke="#000" stroke-width="2.5"/>
<line x1="2790.5" y1="1289.3" x2="2790.5" y2="1430" stroke="#000" stroke-width="2"/>
<line x1="2656.5" y1="1317.5" x2="3049.8" y2="1317.5" stroke="#000" stroke-width="4"/>
<line x1="2656.5" y1="1346.7" x2="3049.8" y2="1346.7" stroke="#000" stroke-width="2"/>
<line x1="2656.5" y1="1374.3" x2="3049.8" y2="1374.3" stroke="#000" stroke-width="2"/>
<line x1="2656.5" y1="1401" x2="3049.8" y2="1401" stroke="#000" stroke-width="2"/>
<text class="tbh" x="2723.5" y="1311">New Course</text>
<text class="tbh" x="2920" y="1311">Incompatible Old Course(s)</text>
<text class="tb" x="2723.5" y="1341">CSSE2010</text><text class="tb" x="2920" y="1341">CSSE1000</text>
<text class="tb" x="2723.5" y="1368">CSSE2310</text><text class="tb" x="2920" y="1368">COMP2303</text>
<text class="tb" x="2723.5" y="1394.5">CSSE3010</text><text class="tb" x="2920" y="1394.5">CSSE4001</text>
<text class="tb" x="2723.5" y="1422.5">CSSE4010</text><text class="tb" x="2920" y="1422.5">CSSE2000, CSSE3000</text>
</g>
</svg>
